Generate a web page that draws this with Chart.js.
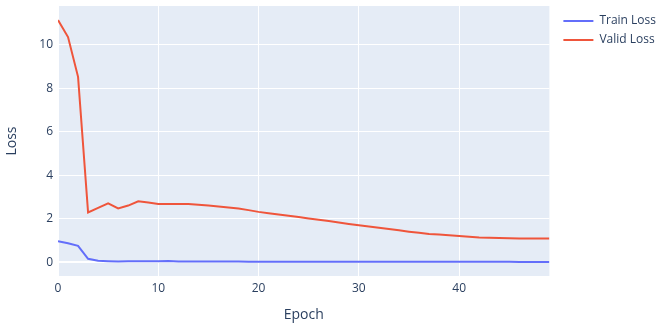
<!DOCTYPE html>
<html>
<head>
<meta charset="utf-8">
<script src="https://cdn.jsdelivr.net/npm/chart.js@4"></script>
<style>
  html, body { margin: 0; padding: 0; background: #fff; }
  #wrap { width: 667px; height: 331px; }
</style>
</head>
<body>
<div id="wrap"><canvas id="lossChart"></canvas></div>
<script>
// values, one per epoch
const epochs = Array.from({length: 50}, (_, i) => i);
const trainLoss = [0.96, 0.87, 0.75, 0.15, 0.06, 0.04, 0.03, 0.04, 0.04, 0.04, 0.04, 0.05, 0.03, 0.03,
  0.03, 0.03, 0.03, 0.03, 0.03, 0.02, 0.02, 0.02, 0.02, 0.02, 0.02, 0.02, 0.02, 0.02, 0.02, 0.02,
  0.02, 0.02, 0.02, 0.02, 0.02, 0.02, 0.02, 0.02, 0.01, 0.01, 0.01, 0.01, 0.01, 0.01, 0.01, 0.01,
  0.0, 0.0, 0.0, 0.0];
const validLoss = [11.13, 10.35, 8.52, 2.28, 2.49, 2.70, 2.47, 2.60, 2.80, 2.74, 2.67, 2.67, 2.67, 2.67,
  2.64, 2.60, 2.56, 2.51, 2.46, 2.39, 2.31, 2.25, 2.19, 2.13, 2.07, 2.01, 1.95, 1.89, 1.82, 1.75,
  1.69, 1.64, 1.58, 1.52, 1.46, 1.40, 1.35, 1.29, 1.27, 1.24, 1.20, 1.16, 1.13, 1.12, 1.11, 1.10,
  1.09, 1.09, 1.09, 1.09];
const xTicks = [0, 10, 20, 30, 40];
const yTicks = [0, 2, 4, 6, 8, 10];

const textColor = "#2a3f5f";
const fontFamily = '"Open Sans", Verdana, Arial, sans-serif';

// plotly style plot background
const plotBg = {
    id: "plotBg",
    beforeDraw(chart) {
        const a = chart.chartArea;
        const ctx = chart.ctx;
        ctx.save();
        ctx.fillStyle = "#E5ECF6";
        ctx.fillRect(a.left, a.top, a.right - a.left, a.bottom - a.top);
        ctx.restore();
    },
    afterLayout(chart) {
        // push the legend a bit away from the plot
        chart.legend.left += 7;
        chart.legend.top += 2;
    }
};

const ctx = document.getElementById("lossChart").getContext("2d");
new Chart(ctx, {
    type: "line",
    data: {
        datasets: [
            {
                label: "Train Loss",
                data: epochs.map((e, i) => ({x: e, y: trainLoss[i]})),
                borderColor: "#636efa",
                backgroundColor: "#636efa",
                borderWidth: 2,
                pointRadius: 0,
                tension: 0
            },
            {
                label: "Valid Loss",
                data: epochs.map((e, i) => ({x: e, y: validLoss[i]})),
                borderColor: "#EF553B",
                backgroundColor: "#EF553B",
                borderWidth: 2,
                pointRadius: 0,
                tension: 0
            }
        ]
    },
    options: {
        responsive: true,
        maintainAspectRatio: false,
        animation: false,
        layout: { padding: { top: 6, left: 0, right: 8, bottom: 0 } },
        plugins: {
            tooltip: { enabled: false },
            legend: {
                position: "right",
                align: "start",
                labels: {
                    usePointStyle: true,
                    pointStyle: "line",
                    pointStyleWidth: 30,
                    padding: 7,
                    color: textColor,
                    font: { family: fontFamily, size: 12 }
                }
            }
        },
        scales: {
            x: {
                type: "linear",
                min: 0,
                max: 49,
                afterFit(s) {
                    s.height = 55;
                    s.paddingLeft = 0;
                    s.paddingRight = 0;
                },
                afterBuildTicks(s) { s.ticks = xTicks.map(v => ({value: v})); },
                ticks: {
                    color: textColor,
                    font: { family: fontFamily, size: 12 },
                    padding: 5,
                    maxRotation: 0
                },
                grid: { color: "#ffffff", lineWidth: 1, drawTicks: false },
                border: { display: false },
                title: {
                    display: true,
                    text: "Epoch",
                    color: textColor,
                    font: { family: fontFamily, size: 14 },
                    padding: { top: 8, bottom: 8 }
                }
            },
            y: {
                min: -0.64,
                max: 11.78,
                afterFit(s) {
                    s.width = 58;
                    s.paddingTop = 0;
                    s.paddingBottom = 0;
                },
                afterBuildTicks(s) { s.ticks = yTicks.map(v => ({value: v})); },
                ticks: {
                    color: textColor,
                    font: { family: fontFamily, size: 12 },
                    padding: 5
                },
                grid: {
                    color: "#ffffff",
                    lineWidth: c => (c.tick && c.tick.value === 0 ? 2 : 1),
                    drawTicks: false
                },
                border: { display: false },
                title: {
                    display: true,
                    text: "Loss",
                    color: textColor,
                    font: { family: fontFamily, size: 14 },
                    padding: { top: 4, bottom: 4 }
                }
            }
        }
    },
    plugins: [plotBg]
});
</script>
</body>
</html>
